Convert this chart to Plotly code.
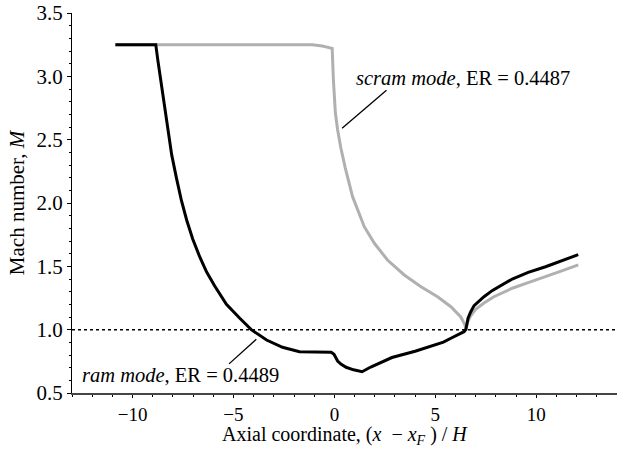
import plotly.graph_objects as go

# Axial coordinate (x - x_F)/H and Mach number along the duct, ram mode (ER = 0.4489)
ram_x = [-10.85, -8.85, -8.75, -8.60, -8.43, -8.26, -8.06, -7.83, -7.58, -7.32,
         -7.02, -6.67, -6.33, -5.93, -5.35, -4.70, -4.12, -3.36, -2.57, -1.73,
         -0.90, -0.16, -0.02, 0.06, 0.16, 0.32, 0.58, 0.95, 1.37, 1.80, 2.22,
         2.85, 4.00, 4.86, 5.40, 5.77, 6.05, 6.26, 6.42, 6.51, 6.55, 6.62, 6.75,
         6.92, 7.41, 7.83, 8.81, 9.60, 10.46, 11.30, 12.08]
ram_M = [3.25, 3.25, 3.13, 2.97, 2.77, 2.57, 2.38, 2.20, 2.02, 1.866,
         1.716, 1.574, 1.455, 1.345, 1.20, 1.092, 1.0, 0.918, 0.861, 0.826,
         0.821, 0.821, 0.805, 0.78, 0.752, 0.728, 0.703, 0.683, 0.668, 0.705, 0.734,
         0.78, 0.83, 0.871, 0.902, 0.932, 0.952, 0.968, 0.984, 1.0, 1.04, 1.09, 1.14,
         1.19, 1.26, 1.31, 1.40, 1.452, 1.497, 1.548, 1.592]

# Scram mode (ER = 0.4487)
scram_x = [-10.85, -1.1, -0.6, -0.11, -0.05, 0.05, 0.16, 0.32, 0.54, 0.90, 1.48,
           1.98, 2.63, 3.46, 4.29, 5.11, 5.77, 6.26, 6.47, 6.51, 6.60, 6.75, 7.00,
           7.41, 7.90, 8.81, 9.60, 10.46, 11.30, 12.08]
scram_M = [3.25, 3.25, 3.24, 3.221, 2.971, 2.708, 2.576, 2.434, 2.276, 2.05, 1.813,
           1.682, 1.55, 1.432, 1.339, 1.26, 1.181, 1.10, 1.037, 1.0, 1.06, 1.11, 1.16,
           1.21, 1.26, 1.327, 1.372, 1.418, 1.466, 1.511]

x_ticks = [-10, -5, 0, 5, 10]
y_ticks = [0.5, 1.0, 1.5, 2.0, 2.5, 3.0, 3.5]

FONT = "Liberation Serif"
AXIS_SIZE = 21
NOTE_SIZE = 20.5

fig = go.Figure()
fig.add_trace(go.Scatter(x=scram_x, y=scram_M, mode="lines",
                         line=dict(color="#b0b0b0", width=3), showlegend=False))
fig.add_trace(go.Scatter(x=ram_x, y=ram_M, mode="lines",
                         line=dict(color="black", width=3), showlegend=False))

# sonic line M = 1
fig.add_shape(type="line", xref="paper", x0=0, x1=1, yref="y", y0=1, y1=1,
              line=dict(color="black", width=1.5, dash="dot"))

# leader lines to the curve labels
fig.add_shape(type="line", xref="x", yref="y", x0=2.58, y0=2.89, x1=0.38, y1=2.59,
              line=dict(color="black", width=1.3))
fig.add_shape(type="line", xref="x", yref="y", x0=-5.22, y0=0.73, x1=-3.87, y1=0.924,
              line=dict(color="black", width=1.3))

fig.add_annotation(x=0.99, y=2.99, xref="x", yref="y", xanchor="left", yanchor="middle",
                   text="<i>scram mode</i>, ER = 0.4487", showarrow=False,
                   font=dict(family=FONT, size=NOTE_SIZE, color="black"))
fig.add_annotation(x=-12.6, y=0.64, xref="x", yref="y", xanchor="left", yanchor="middle",
                   text="<i>ram mode</i>, ER = 0.4489", showarrow=False,
                   font=dict(family=FONT, size=NOTE_SIZE, color="black"))

# x-axis title, placed under the tick labels
fig.add_annotation(x=0.5, y=-0.15, xref="paper", yref="paper", xanchor="center", yanchor="bottom",
                   text="Axial coordinate, (<i>x</i>  − <i>x</i><sub><i>F</i></sub> ) / <i>H</i>",
                   showarrow=False, font=dict(family=FONT, size=20, color="black"))

fig.update_layout(
    width=617, height=450,
    margin=dict(l=72, r=0, t=13, b=57),
    paper_bgcolor="white", plot_bgcolor="white",
    font=dict(family=FONT, size=AXIS_SIZE, color="black"),
    xaxis=dict(
        range=[-13, 14], showgrid=False, zeroline=False,
        showline=True, linecolor="#444", linewidth=2,
        ticks="outside", ticklen=3, tickwidth=1, tickcolor="black",
        tickvals=x_ticks,
        minor=dict(ticks="outside", dtick=1, tick0=0, ticklen=2, tickwidth=1, tickcolor="black"),
        tickfont=dict(family=FONT, size=19),
    ),
    yaxis=dict(
        range=[0.5, 3.5], showgrid=False, zeroline=False,
        showline=True, linecolor="black", linewidth=1,
        ticks="outside", ticklen=4, tickwidth=1, tickcolor="black",
        tickvals=y_ticks, tickformat=".1f",
        minor=dict(ticks="outside", dtick=0.1, tick0=0.5, ticklen=2, tickwidth=1, tickcolor="black"),
        title=dict(text="Mach number, <i>M</i>", font=dict(family=FONT, size=AXIS_SIZE), standoff=6),
        tickfont=dict(family=FONT, size=AXIS_SIZE),
    ),
)

fig.write_html("out.html")
